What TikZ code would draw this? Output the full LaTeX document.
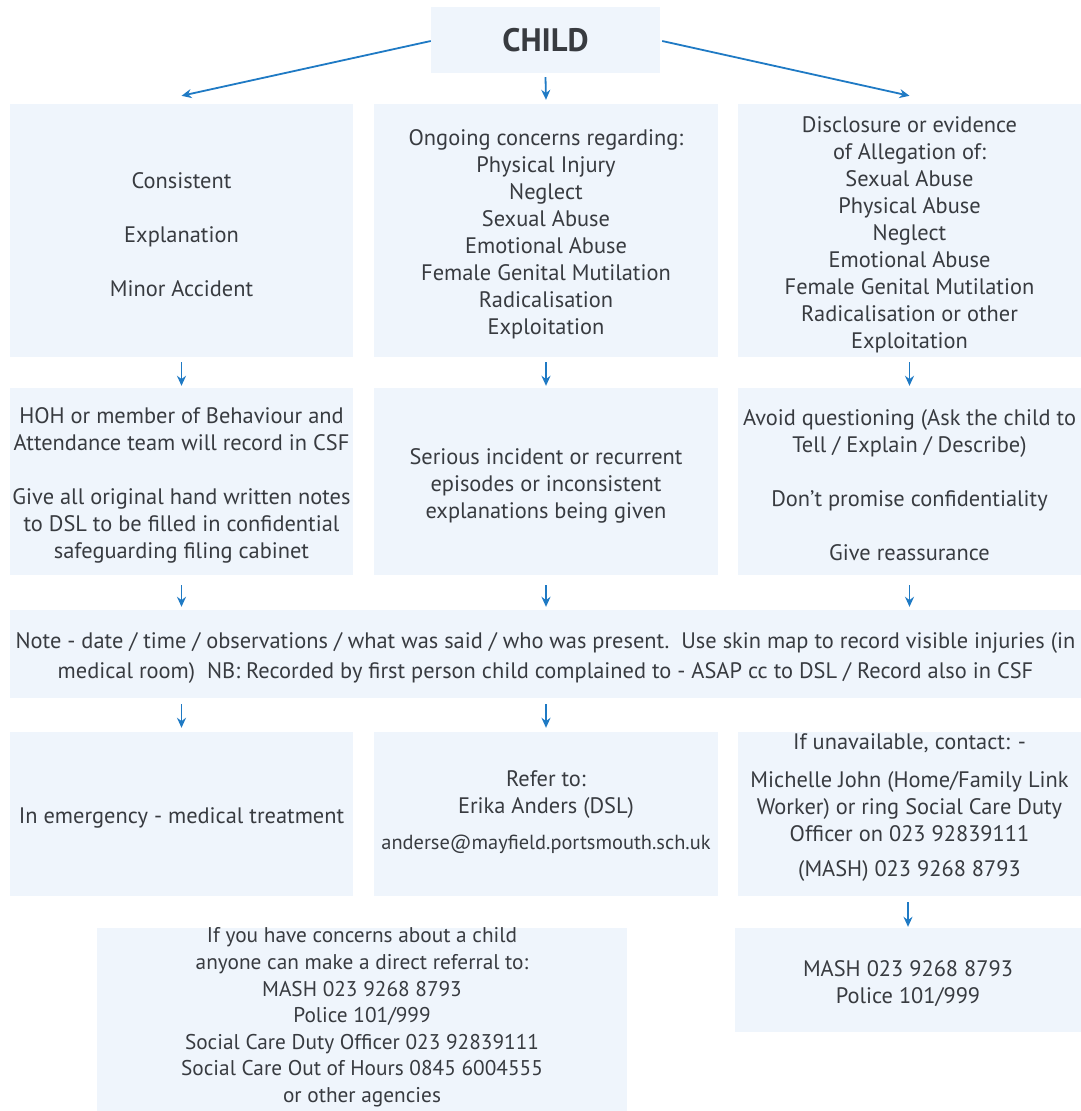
\documentclass[tikz,border=0pt]{standalone}
\usepackage{fontspec}
\setmainfont{PT Sans}
\usetikzlibrary{arrows.meta,calc}
\definecolor{boxfill}{HTML}{EFF5FC}
\definecolor{txtcol}{HTML}{383B40}
\definecolor{arrcol}{HTML}{1F7AC4}
\tikzset{
  box/.style={fill=boxfill, draw=none, inner sep=0pt, align=center, text=txtcol,
    font=\fontsize{22.4}{27}\selectfont},
  txt/.style={inner sep=0pt, align=center, text=txtcol, font=\fontsize{22.4}{27}\selectfont},
  arr/.style={draw=arrcol, line width=1.8pt, -{Stealth[length=10pt,width=9pt]}},
}
% #1 text options, #2 name, #3 centre, #4 width, #5 height, #6 text
\newcommand\mkbox[6][]{%
  \node[box, minimum width=#4pt, minimum height=#5pt] (#2) at (#3) {};
  \node[txt,#1] (#2t) at ([yshift=-4pt]#2.center) {#6};}
\begin{document}
\begin{tikzpicture}[x=1pt,y=-1pt]
\useasboundingbox (0,0) rectangle (1081,1111);
% top
\node[box, minimum width=229pt, minimum height=66pt, font=\fontsize{32.5}{32.5}\selectfont\bfseries] (child) at (545.5,40) {CHILD};
% row 1
\mkbox{r1l}{181.5,230.5}{343}{253}
  {Consistent\\[27pt]Explanation\\[27pt]Minor Accident}
\mkbox{r1m}{546,230.5}{344}{253}
  {Ongoing concerns regarding:\\Physical Injury\\Neglect\\Sexual Abuse\\Emotional Abuse\\Female Genital Mutilation\\Radicalisation\\Exploitation}
\mkbox{r1r}{909.5,230.5}{343}{253}
  {Disclosure or evidence\\of Allegation of:\\Sexual Abuse\\Physical Abuse\\Neglect\\Emotional Abuse\\Female Genital Mutilation\\Radicalisation or other\\Exploitation}
% row 2
\mkbox{r2l}{181.5,481.5}{343}{187}
  {HOH or member of Behaviour and\\Attendance team will record in CSF\\[27pt]Give all original hand written notes\\to DSL to be filled in confidential\\safeguarding filing cabinet}
\mkbox{r2m}{546,481.5}{344}{187}
  {Serious incident or recurrent\\episodes or inconsistent\\explanations being given}
\mkbox{r2r}{909.5,481.5}{343}{187}
  {Avoid questioning (Ask the child to\\Tell / Explain / Describe)\\[27pt]Don't promise confidentiality\\[27pt]Give reassurance}
% row 3
\mkbox[font=\fontsize{22.4}{30}\selectfont]{r3}{545.5,654}{1071}{88}
  {Note - date / time / observations / what was said / who was present.\ \ Use skin map to record visible injuries (in\\medical room)\ \ NB: Recorded by first person child complained to - ASAP cc to DSL / Record also in CSF}
% row 4
\mkbox{r4l}{181.5,814}{343}{164}
  {In emergency - medical treatment}
\node[box, minimum width=344pt, minimum height=164pt] (r4m) at (546,814) {};
\node[txt] (r4mt) at (546,812)
  {Refer to:\\Erika Anders (DSL)\\[9pt]{\fontsize{20.4}{25}\selectfont anderse@mayfield.portsmouth.sch.uk}};
\node[box, minimum width=343pt, minimum height=164pt] (r4r) at (909.5,814) {};
\node[txt] (r4rt) at (909.5,808)
  {If unavailable, contact: -\\[11pt]Michelle John (Home/Family Link\\Worker) or ring Social Care Duty\\Officer on 023 92839111\\[8pt](MASH) 023 9268 8793};
% row 5
\mkbox{r5r}{908,980}{346}{104}
  {MASH 023 9268 8793\\Police 101/999}
\node[box, minimum width=530pt, minimum height=183pt] (bot) at (362,1019.5) {};
\node[txt, font=\fontsize{21.3}{26.6}\selectfont] (bott) at ([yshift=2pt]bot.center)
  {If you have concerns about a child\\anyone can make a direct referral to:\\MASH 023 9268 8793\\Police 101/999\\Social Care Duty Officer 023 92839111\\Social Care Out of Hours 0845 6004555\\or other agencies};
% arrows
\draw[arr] ([yshift=-1pt]child.west) -- ([yshift=8pt]r1l.north);
\draw[arr] ([yshift=-4pt]child.south) -- ([yshift=4pt]r1m.north);
\draw[arr] ([xshift=2pt,yshift=-1pt]child.east) -- ([yshift=8pt]r1r.north);
\foreach \a/\b in {r1l/r2l, r1m/r2m, r1r/r2r}{
  \draw[arr, shorten <=5pt, shorten >=2pt] (\a.south) -- (\b.north);
}
\foreach \b in {r2l, r2m, r2r}{
  \draw[arr, shorten <=10pt, shorten >=3pt] (\b.south) -- (\b.south |- r3.north);
}
\foreach \b in {r4l, r4m}{
  \draw[arr, shorten <=6pt, shorten >=4pt] (\b.north |- r3.south) -- (\b.north);
}
\draw[arr, shorten <=6pt, shorten >=1pt] (r4r.south -| r5r.north) -- (r5r.north);
\end{tikzpicture}
\end{document}
